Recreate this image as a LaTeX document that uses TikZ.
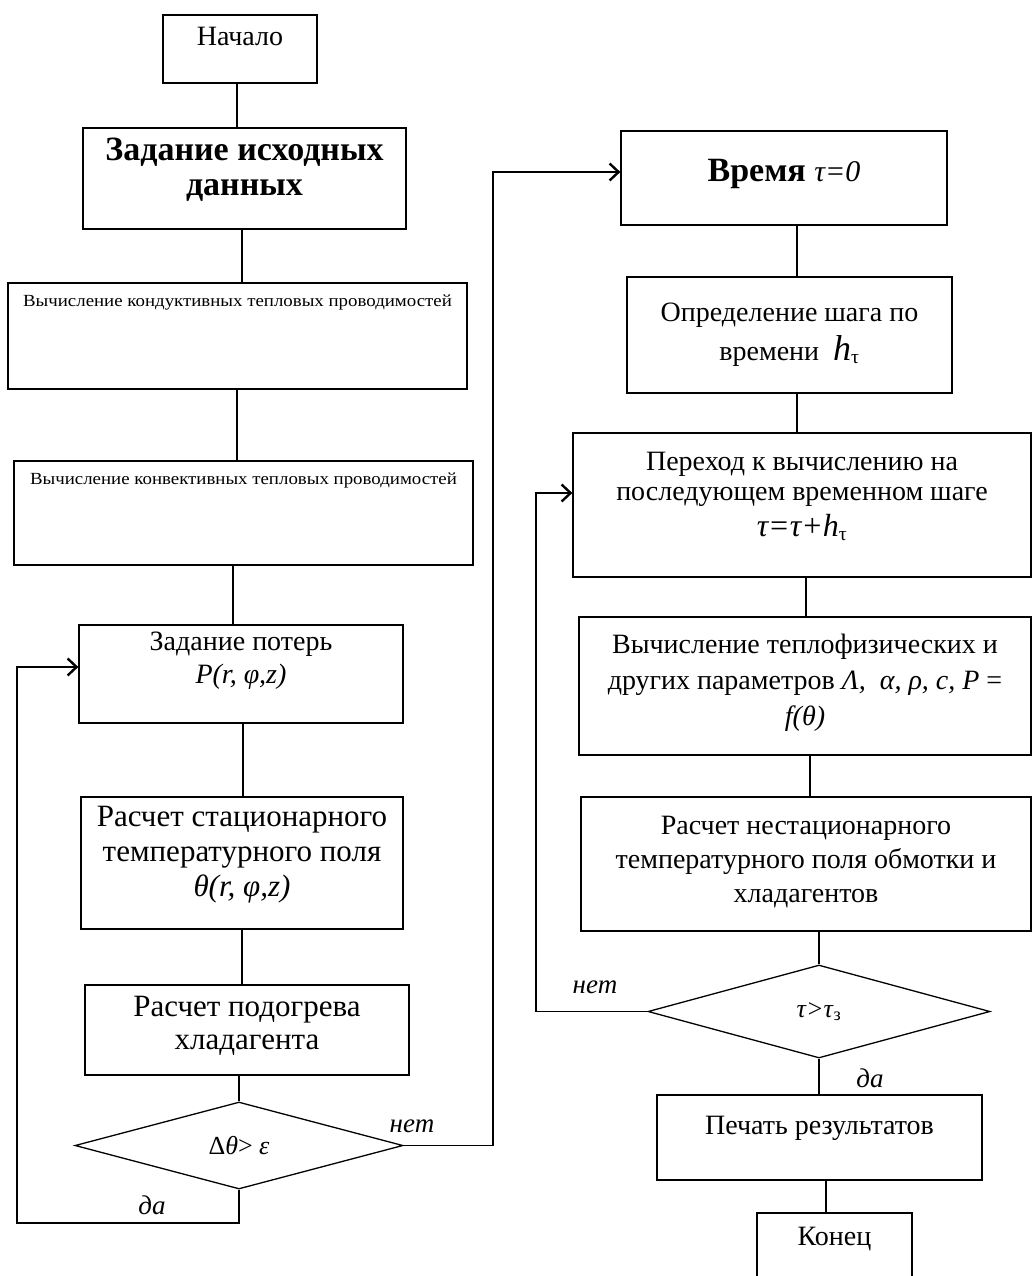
\documentclass[tikz,border=0pt]{standalone}
\usepackage{fontspec}
\setmainfont{Liberation Serif}
\newfontfamily\widefont[FakeStretch=1.11]{Liberation Serif}
\usetikzlibrary{shapes.geometric,arrows.meta}

\newcommand{\fs}[2]{\fontsize{#1}{#2}\selectfont}

\tikzset{
  block/.style={draw, line width=1.3pt, inner sep=0pt},
  txt/.style={align=center, inner sep=0pt, anchor=north},
  cond/.style={draw, diamond, line width=1.3pt, inner sep=0pt, font=\fs{26}{26}},
  link/.style={line width=1.3pt},
  arr/.style={line width=1.4pt, -{Straight Barb[length=9pt,width=17pt,line width=2.4pt]}},
  ans/.style={font=\fs{27}{27}\itshape, inner sep=0pt}
}

\begin{document}
\begin{tikzpicture}[x=1pt, y=-1pt]
    \useasboundingbox (0,0) rectangle (1033,1276);

    % left column
    \node[block, minimum width=154pt, minimum height=68pt,
      label={[txt, yshift=-13pt, font=\fs{28}{33}]north:Начало}] (start) at (240,49) {};
    \node[block, minimum width=323pt, minimum height=101pt,
      label={[txt, yshift=-10pt, font=\fs{34}{35}\bfseries]north:{Задание исходных\\данных}}] (init) at (244.5,178.5) {};
    \node[block, minimum width=459pt, minimum height=106pt,
      label={[txt, yshift=-12pt, font=\widefont\fs{17}{17}]north:{Вычисление кондуктивных тепловых проводимостей}}] (cond) at (237.5,336) {};
    \node[block, minimum width=459pt, minimum height=104pt,
      label={[txt, yshift=-12pt, font=\widefont\fs{17}{17}]north:{Вычисление конвективных тепловых проводимостей}}] (conv) at (243.5,513) {};
    \node[block, minimum width=324pt, minimum height=98pt,
      label={[txt, yshift=-7pt, font=\fs{28}{33}]north:{Задание потерь\\\textit{P(r,~φ,z)}}}] (loss) at (241,674) {};
    \node[block, minimum width=322pt, minimum height=132pt,
      label={[txt, yshift=-10pt, font=\fs{31}{35}]north:{Расчет стационарного\\температурного поля\\\textit{θ(r,~φ,z)}}}] (stat) at (242,863) {};
    \node[block, minimum width=324pt, minimum height=90pt,
      label={[txt, yshift=-12pt, font=\fs{31}{33}]north:{Расчет подогрева\\хладагента}}] (heat) at (247,1030) {};
    \node[cond, minimum width=328pt, minimum height=87pt] (d1) at (239,1145.5) {Δ\textit{θ}> \textit{ε}};

    % right column
    \node[block, minimum width=326pt, minimum height=94pt,
      label={[txt, yshift=-29pt, font=\fs{34}{34}]north:{\textbf{Время} {\fs{30}{30}\textit{τ=0}}}}] (time) at (784,178) {};
    \node[block, minimum width=325pt, minimum height=116pt,
      label={[txt, yshift=-26pt, font=\fs{28}{33}]north:{Определение шага по\\[6pt]времени ~{\fs{36}{36}\textit{h}}\textsubscript{τ}}}] (hstep) at (789.5,335) {};
    \node[block, minimum width=458pt, minimum height=144pt,
      label={[txt, yshift=-20pt, font=\fs{28}{30}]north:{Переход к вычислению на\\последующем временном шаге\\[6pt]{\fs{32}{32}\textit{τ=τ+h}}\textsubscript{τ}}}] (next) at (802,505) {};
    \node[block, minimum width=452pt, minimum height=138pt,
      label={[txt, yshift=-18pt, font=\fs{28}{36}]north:{Вычисление теплофизических и\\других параметров \textit{Λ, ~α, ρ, c, P} =\\\textit{f(θ)}}}] (props) at (805,686) {};
    \node[block, minimum width=450pt, minimum height=134pt,
      label={[txt, yshift=-20pt, font=\fs{28}{34}]north:{Расчет нестационарного\\температурного поля обмотки и\\хладагентов}}] (trans) at (806,864) {};
    \node[cond, minimum width=342pt, minimum height=93pt] (d2) at (819,1011.5) {\textit{τ>τ}\textsubscript{з}};
    \node[block, minimum width=325pt, minimum height=85pt,
      label={[txt, yshift=-22pt, font=\fs{28}{33}]north:{Печать результатов}}] (print) at (819.5,1137.5) {};
    \node[block, minimum width=155pt, minimum height=90pt,
      label={[txt, yshift=-15pt, font=\fs{28}{33}]north:{Конец}}] (stop) at (834.5,1258) {};

    % connectors
    \draw[link] (start.south -| 237,0) -- (init.north -| 237,0);
    \draw[link] (init.south -| 242,0) -- (cond.north -| 242,0);
    \draw[link] (cond.south -| 237,0) -- (conv.north -| 237,0);
    \draw[link] (conv.south -| 233,0) -- (loss.north -| 233,0);
    \draw[link] (loss.south -| 243,0) -- (stat.north -| 243,0);
    \draw[link] (stat.south -| 242,0) -- (heat.north -| 242,0);
    \draw[link] (heat.south -| d1.north) -- (d1.north);

    \draw[link] (time.south -| 797,0) -- (hstep.north -| 797,0);
    \draw[link] (hstep.south -| 797,0) -- (next.north -| 797,0);
    \draw[link] (next.south -| 806,0) -- (props.north -| 806,0);
    \draw[link] (props.south -| 810,0) -- (trans.north -| 810,0);
    \draw[link] (trans.south -| d2.north) -- (d2.north);
    \draw[link] (d2.south) -- (d2.south |- print.north);
    \draw[link] (print.south -| 826,0) -- (stop.north -| 826,0);

    % loops
    \coordinate (yesA) at (17,1223);
    \coordinate (noA) at (493,1145.5);
    \coordinate (noB) at (536,1011.5);
    \draw[arr] (d1.south) |- (yesA) |- ([yshift=7pt]loss.west);
    \draw[arr] (d1.east) -- (noA) |- ([yshift=6pt]time.west);
    \draw[arr] (d2.west) -- (noB) |- ([yshift=12pt]next.west);

    \node[ans] (no1) at (412,1126) {нет};
    \node[ans] (yes1) at (152,1205) {да};
    \node[ans] (no2) at (595,987) {нет};
    \node[ans] (yes2) at (870,1078) {да};
\end{tikzpicture}
\end{document}
